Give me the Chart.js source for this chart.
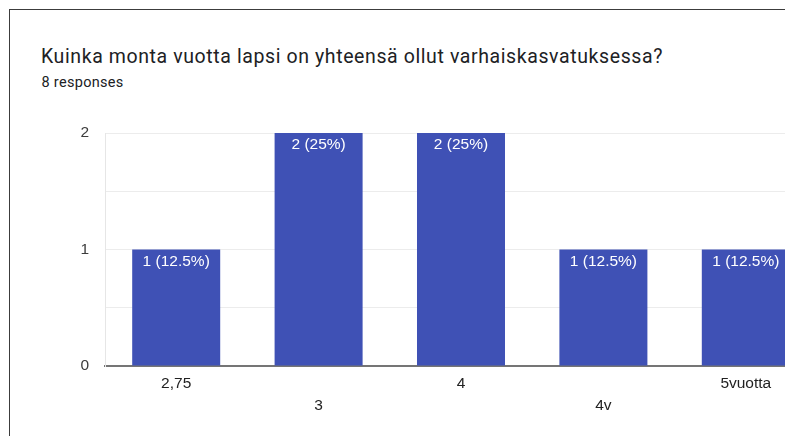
<!DOCTYPE html>
<html>
<head>
<meta charset="utf-8">
<script src="https://cdn.jsdelivr.net/npm/chart.js@4/dist/chart.umd.min.js"></script>
<style>
  html, body { margin: 0; padding: 0; width: 785px; height: 436px; overflow: hidden; background: #fff; }
  #card { position: absolute; left: 9px; top: 9px; width: 900px; height: 500px; border: 1.5px solid #3c3c3c; box-sizing: border-box; background: #fff; }
  #title { position: absolute; left: 41px; top: 44.5px; font-family: Roboto, "Noto Sans", sans-serif; font-size: 19.5px; line-height: 23px; color: #202124; white-space: nowrap; letter-spacing: 0.6px; }
  #sub { position: absolute; left: 41.5px; top: 74px; font-family: Roboto, "Noto Sans", sans-serif; font-size: 14.5px; line-height: 17px; color: #202124; white-space: nowrap; letter-spacing: 0.3px; }
  #wrap { position: absolute; left: 0; top: 0; width: 817px; height: 436px; }
</style>
</head>
<body>
<div id="card"></div>
<div id="title">Kuinka monta vuotta lapsi on yhteensä ollut varhaiskasvatuksessa?</div>
<div id="sub">8 responses</div>
<div id="wrap"><canvas id="c"></canvas></div>
<script>
const categories = ['2,75', '3', '4', '4v', '5vuotta'];
const counts = [1, 2, 2, 1, 1];
const totalResponses = 8;
const yTickLabels = [0, 1, 2];

const FONT = '"Liberation Sans", Arial, sans-serif';

const barLabels = {
  id: 'barLabels',
  afterDatasetsDraw(chart) {
    const ctx = chart.ctx;
    const meta = chart.getDatasetMeta(0);
    ctx.save();
    ctx.fillStyle = '#ffffff';
    ctx.font = '15.5px ' + FONT;
    ctx.textAlign = 'center';
    ctx.textBaseline = 'middle';
    meta.data.forEach((bar, i) => {
      const v = counts[i];
      const pct = Math.round(v / totalResponses * 1000) / 10;
      ctx.fillText(v + ' (' + pct + '%)', bar.x, bar.y + 12);
    });
    ctx.restore();
  }
};

new Chart(document.getElementById('c'), {
  type: 'bar',
  data: {
    labels: categories,
    datasets: [{
      data: counts,
      backgroundColor: '#3f51b5',
      categoryPercentage: 1,
      barPercentage: 0.618
    }]
  },
  options: {
    responsive: true,
    maintainAspectRatio: false,
    animation: false,
    layout: { padding: { top: 133, right: 0, bottom: 0, left: 0 } },
    plugins: { legend: { display: false }, tooltip: { enabled: false } },
    scales: {
      x: {
        grid: { display: false, drawTicks: false },
        border: { display: true, color: '#757575', width: 2 },
        ticks: {
          autoSkip: false,
          maxRotation: 0,
          padding: 6.5,
          color: '#222222',
          font: { family: FONT, size: 15.5, lineHeight: 22 / 15.5 },
          callback: function (val, i) {
            const l = categories[i];
            return i % 2 === 1 ? ['', l] : [l];
          }
        },
        afterFit: function (s) { s.height = 70; }
      },
      y: {
        min: 0,
        max: 2,
        grid: {
          color: function (c) { return c.tick && c.tick.value === 0 ? 'rgba(0,0,0,0)' : '#ececec'; },
          drawTicks: false,
          lineWidth: 1
        },
        border: { display: true, color: '#e6e6e6', width: 1 },
        ticks: {
          stepSize: 0.5,
          padding: 16,
          color: '#3c3c3c',
          font: { family: FONT, size: 15.5 },
          callback: function (v) { return yTickLabels.includes(v) ? String(v) : ''; }
        },
        afterFit: function (s) { s.width = 105; }
      }
    }
  },
  plugins: [barLabels]
});
</script>
</body>
</html>
